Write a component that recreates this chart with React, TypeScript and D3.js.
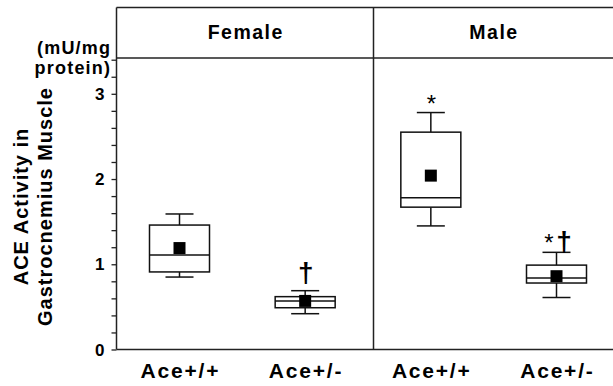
import React, { useRef, useEffect } from "react";
import * as d3 from "d3";

const groups = ["Female", "Female", "Male", "Male"];
const genotypes = ["Ace+/+", "Ace+/-", "Ace+/+", "Ace+/-"];
const whiskerLow = [0.85, 0.42, 1.45, 0.61];
const q1 = [0.91, 0.49, 1.67, 0.78];
const median = [1.11, 0.57, 1.78, 0.84];
const q3 = [1.46, 0.62, 2.55, 0.99];
const whiskerHigh = [1.59, 0.69, 2.78, 1.14];
const means = [1.19, 0.57, 2.04, 0.86];
// significance marks and the level (in mU/mg) of their baseline
const marks = ["", "†", "*", "*†"];
const markLevel = [0, 0.79, 2.79, 1.152];
const yTicks = [0, 1, 2, 3];
const panels = ["Female", "Male"];

const W = 613;
const H = 386;
const margin = { top: 7.5, right: 0, bottom: 36.5, left: 116.5 };
const headerH = 50.5;
const dividerX = 373.5;

const App = () => {
  const svgRef = useRef<SVGSVGElement>(null);

  useEffect(() => {
    const svg = d3.select(svgRef.current);
    svg.selectAll("*").remove();

    const font = "Liberation Sans, Arial, Helvetica, sans-serif";
    const ink = "#222";
    const plotTop = margin.top + headerH;
    const plotBottom = H - margin.bottom;

    const keys = genotypes.map((g, i) => `${groups[i]}-${g}`);
    const x = d3.scalePoint<string>().domain(keys).range([179.5, 556.5]);
    const y = d3.scaleLinear().domain([0, 3.42]).range([plotBottom, plotTop]);

    const hline = (y0: number) =>
      svg
        .append("line")
        .attr("x1", margin.left)
        .attr("x2", W)
        .attr("y1", y0)
        .attr("y2", y0)
        .attr("stroke", ink)
        .attr("stroke-width", 1.5);

    // header box and panel divider
    hline(margin.top);
    hline(plotTop);
    hline(plotBottom);
    svg
      .append("line")
      .attr("x1", dividerX)
      .attr("x2", dividerX)
      .attr("y1", margin.top)
      .attr("y2", plotBottom)
      .attr("stroke", ink)
      .attr("stroke-width", 1.5);

    // y axis
    const yAxis = svg
      .append("g")
      .attr("transform", `translate(${margin.left},0)`)
      .call(
        d3
          .axisLeft(y)
          .tickValues(d3.range(0, 3.41, 0.2))
          .tickSize(5)
          .tickFormat(() => "")
      );
    yAxis
      .select(".domain")
      .attr("stroke", ink)
      .attr("stroke-width", 1.5)
      .attr("d", `M0,${margin.top}V${plotBottom}`);
    yAxis.selectAll(".tick line").attr("stroke", ink).attr("stroke-width", 1.3);

    yTicks.forEach((t) => {
      svg
        .append("text")
        .attr("x", margin.left - 12)
        .attr("y", y(t))
        .attr("dy", "0.36em")
        .attr("text-anchor", "end")
        .attr("font-family", font)
        .attr("font-weight", "bold")
        .attr("font-size", 17)
        .text(t);
    });

    // header labels
    const panelCenters = [(margin.left + dividerX) / 2, (dividerX + W) / 2];
    panels.forEach((p, i) => {
      svg
        .append("text")
        .attr("x", panelCenters[i] + 0.75)
        .attr("y", 39.3)
        .attr("text-anchor", "middle")
        .attr("font-family", font)
        .attr("font-weight", "bold")
        .attr("font-size", 19.5)
        .attr("letter-spacing", 1.5)
        .text(p);
    });

    // unit label
    ["(mU/mg", "protein)"].forEach((t, i) => {
      svg
        .append("text")
        .attr("x", 111.2)
        .attr("y", 54 + i * 20)
        .attr("text-anchor", "end")
        .attr("font-family", font)
        .attr("font-weight", "bold")
        .attr("font-size", 18)
        .attr("letter-spacing", 1.2)
        .text(t);
    });

    // y title
    ["ACE Activity in", "Gastrocnemius Muscle"].forEach((t, i) => {
      svg
        .append("text")
        .attr("transform", `translate(${20.5 + i * 24},${207}) rotate(-90)`)
        .attr("dy", "0.36em")
        .attr("dx", 0.5)
        .attr("text-anchor", "middle")
        .attr("font-family", font)
        .attr("font-weight", "bold")
        .attr("font-size", 20)
        .attr("letter-spacing", 1)
        .text(t);
    });

    // x labels
    keys.forEach((k, i) => {
      svg
        .append("text")
        .attr("x", x(k)! + 0.9)
        .attr("y", 378)
        .attr("text-anchor", "middle")
        .attr("font-family", font)
        .attr("font-weight", "bold")
        .attr("font-size", 21)
        .attr("letter-spacing", 1.8)
        .text(genotypes[i]);
    });

    // boxes
    const boxW = 60;
    const capW = 28;
    const sq = 12;
    keys.forEach((k, i) => {
      const cx = x(k)!;
      const g = svg.append("g").attr("stroke", "#111").attr("stroke-width", 1.5);
      g.append("line")
        .attr("x1", cx)
        .attr("x2", cx)
        .attr("y1", y(whiskerHigh[i]))
        .attr("y2", y(q3[i]));
      g.append("line")
        .attr("x1", cx)
        .attr("x2", cx)
        .attr("y1", y(q1[i]))
        .attr("y2", y(whiskerLow[i]));
      [whiskerHigh[i], whiskerLow[i]].forEach((v) => {
        g.append("line")
          .attr("x1", cx - capW / 2)
          .attr("x2", cx + capW / 2)
          .attr("y1", y(v))
          .attr("y2", y(v));
      });
      g.append("rect")
        .attr("x", cx - boxW / 2)
        .attr("y", y(q3[i]))
        .attr("width", boxW)
        .attr("height", y(q1[i]) - y(q3[i]))
        .attr("fill", "#fff");
      g.append("line")
        .attr("x1", cx - boxW / 2)
        .attr("x2", cx + boxW / 2)
        .attr("y1", y(median[i]))
        .attr("y2", y(median[i]));
      svg
        .append("rect")
        .attr("x", cx - sq / 2)
        .attr("y", y(means[i]) - sq / 2)
        .attr("width", sq)
        .attr("height", sq)
        .attr("fill", "#000");

      if (marks[i]) {
        const tx = svg
          .append("text")
          .attr("x", cx + (marks[i].length > 1 ? 1.5 : 0.5))
          .attr("y", y(markLevel[i]))
          .attr("text-anchor", "middle")
          .attr("font-family", font);
        marks[i].split("").forEach((c, j) => {
          tx.append("tspan")
            .attr("dx", j > 0 ? 2.8 : 0)
            .attr("font-weight", c === "†" ? "bold" : "normal")
            .attr("font-size", c === "†" ? 28 : 24)
            .text(c);
        });
      }
    });
  }, []);

  return (
    <svg
      ref={svgRef}
      width={W}
      height={H}
      style={{ position: "absolute", left: 0, top: 0, background: "#fff" }}
    />
  );
};

export default App;
